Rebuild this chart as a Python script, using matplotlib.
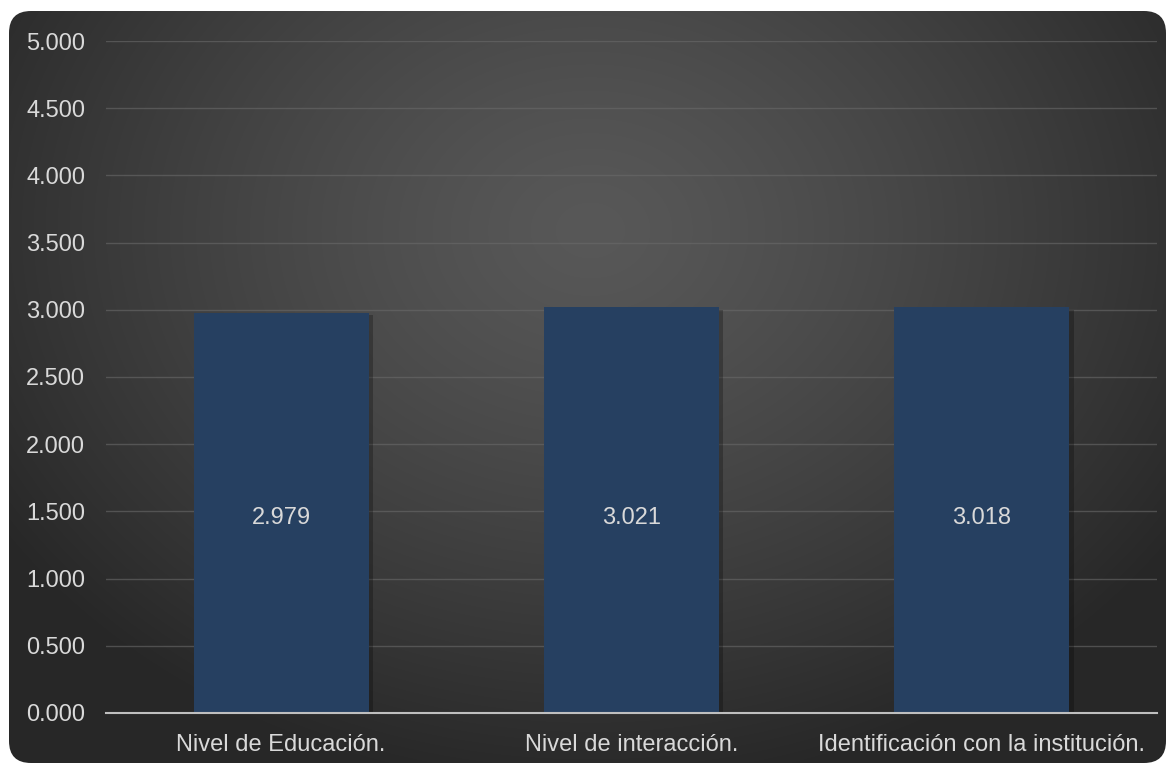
import matplotlib.pyplot as plt
import matplotlib.patheffects as pe
from matplotlib.patches import FancyBboxPatch
import numpy as np

plt.rcParams['font.family'] = ['Liberation Sans', 'DejaVu Sans']

categorias = ['Nivel de Educación.', 'Nivel de interacción.', 'Identificación con la institución.']
valores = [2.979, 3.021, 3.018]
ticks_y = [0.0, 0.5, 1.0, 1.5, 2.0, 2.5, 3.0, 3.5, 4.0, 4.5, 5.0]

texto = '#D9D9D9'
barra = '#264061'

fig = plt.figure(figsize=(11.74, 7.65), dpi=100)
fig.patch.set_facecolor('white')

# fondo oscuro con degradado radial y esquinas redondeadas
bg = fig.add_axes([0, 0, 1, 1], zorder=0)
bg.set_xlim(0, 1174)
bg.set_ylim(765, 0)
bg.axis('off')
yy, xx = np.mgrid[0:765, 0:1174]
r = np.sqrt(((xx - 590) / 700.0) ** 2 + ((yy - 230) / 560.0) ** 2)
lum = 0.345 - 0.19 * np.clip(r, 0, 1) ** 1.3
img = np.dstack([lum, lum, lum])
im = bg.imshow(img, extent=(0, 1174, 765, 0), interpolation='bilinear')
caja = FancyBboxPatch((9, 11), 1157, 752, boxstyle='round,pad=0,rounding_size=22',
                      transform=bg.transData, facecolor='none', edgecolor='none')
bg.add_patch(caja)
im.set_clip_path(caja)

ax = fig.add_axes([0.0903, 0.068, 0.8952, 0.8784], zorder=1)
ax.patch.set_alpha(0)

x = np.arange(len(categorias))
bars = ax.bar(x, valores, width=0.5, color=barra, zorder=3)
for b in bars:
    b.set_path_effects([pe.SimplePatchShadow(offset=(3, -2), shadow_rgbFace='black', alpha=0.25), pe.Normal()])

for xi, v in zip(x, valores):
    ax.annotate(f'{v:.3f}', (xi, 1.5), xytext=(0, -3), textcoords='offset points',
                ha='center', va='center_baseline', color=texto, fontsize=17, zorder=4)

ax.set_xlim(-0.5, 2.5)
ax.set_ylim(0, 5)
ax.set_yticks(ticks_y)
ax.set_yticklabels([f'{t:.3f}' for t in ticks_y])
ax.set_xticks(x)
ax.set_xticklabels(categorias)
ax.tick_params(axis='both', length=0, colors=texto, labelsize=17)
ax.tick_params(axis='y', pad=15)
ax.tick_params(axis='x', pad=15)
ax.yaxis.grid(True, color='#6a6a6a', linewidth=1, alpha=0.6, zorder=0)
ax.set_axisbelow(True)
for s in ['top', 'right', 'left']:
    ax.spines[s].set_visible(False)
ax.spines['bottom'].set_color('#BFBFBF')
ax.spines['bottom'].set_linewidth(1.5)
ax.spines['bottom'].set_zorder(5)

fig.savefig('out.png', dpi=100)
